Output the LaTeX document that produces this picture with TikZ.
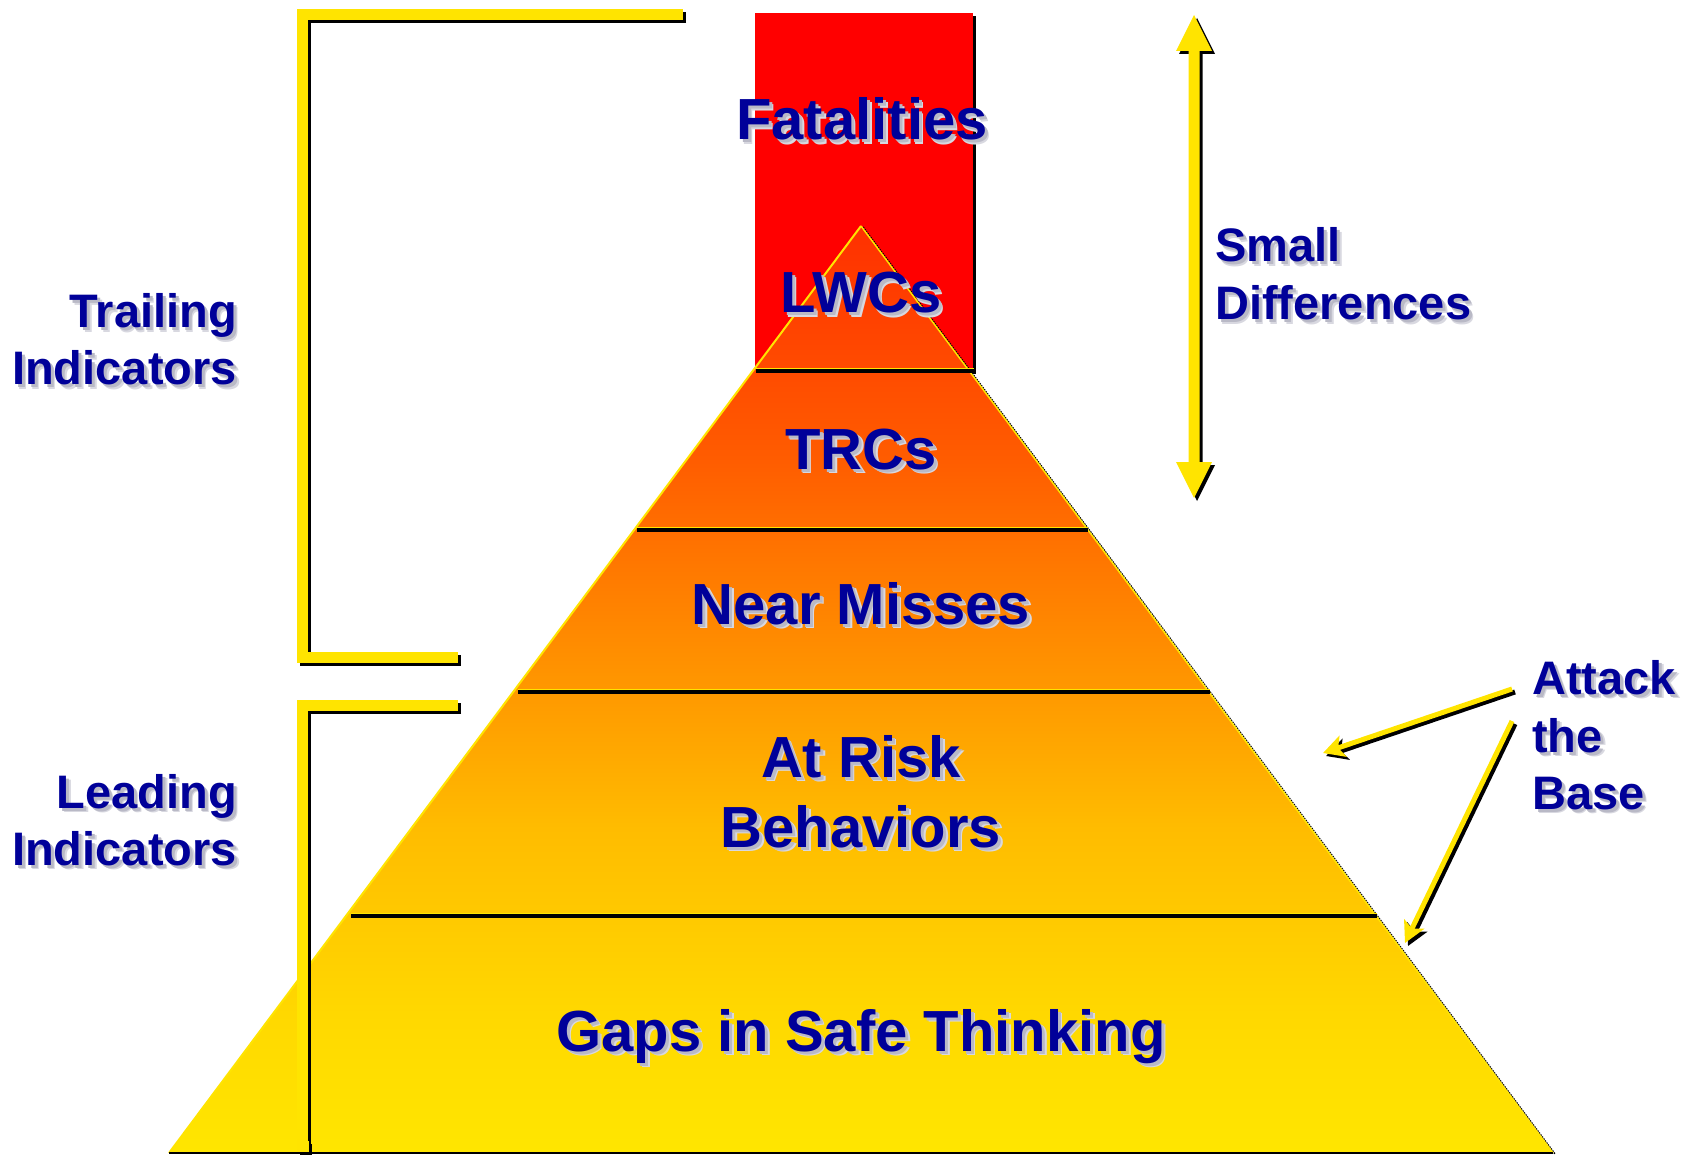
\documentclass[tikz,border=0pt]{standalone}
\usepackage{fontspec}
\setmainfont{Liberation Sans}
\usetikzlibrary{arrows.meta}

\definecolor{navy}{RGB}{0,0,153}
\definecolor{brkyel}{RGB}{255,228,0}
\definecolor{boxred}{RGB}{255,0,0}
\definecolor{txtshadow}{RGB}{185,185,198}
\definecolor{pc1}{RGB}{255,48,0}
\definecolor{pc2}{RGB}{255,92,0}
\definecolor{pc3}{RGB}{255,140,0}
\definecolor{pc4}{RGB}{255,188,0}
\definecolor{pc5}{RGB}{255,216,0}
\definecolor{pc6}{RGB}{255,230,0}

\pgfdeclareverticalshading{pyrshade}{100bp}{color(0bp)=(pc6); color(25bp)=(pc6); color(32.5bp)=(pc5); color(42.5bp)=(pc4); color(52.5bp)=(pc3); color(62.5bp)=(pc2); color(75bp)=(pc1); color(100bp)=(pc1)}

\newcommand{\shtext}[1]{\leavevmode\rlap{\kern4.5pt\raisebox{-4.5pt}{\color{txtshadow!55}#1}}\rlap{\kern3pt\raisebox{-3pt}{\color{txtshadow}#1}}#1}

\tikzset{
  bigtxt/.style={font=\bfseries\fontsize{58}{70}\selectfont, text=navy, inner sep=0pt},
  sidetxt/.style={font=\bfseries\fontsize{47}{57}\selectfont, text=navy, inner sep=0pt},
  brkline/.style={line width=11pt, brkyel, line join=miter},
  brkshadow/.style={line width=11pt, black, line join=miter},
  layerline/.style={line width=3.5pt, black},
  layerhi/.style={line width=1.5pt, brkyel},
  attackarrow/.style={line width=5pt, brkyel, -{Stealth[length=21pt,width=22pt,inset=5pt]}},
  attackshadow/.style={line width=5pt, black, -{Stealth[length=21pt,width=22pt,inset=5pt]}}
}

\begin{document}
\begin{tikzpicture}[x=1pt,y=-1pt]
\useasboundingbox (0,0) rectangle (1687,1155);

% red column with shadow
\fill[black] (758,16) rectangle (976,374);
\fill[boxred] (755,13) rectangle (973,371);

% pyramid
\coordinate (apex) at (861,226);
\coordinate (bl) at (169,1153);
\coordinate (br) at (1553,1153);
\shade[shading=pyrshade] (apex) -- (bl) -- (br) -- cycle;
\draw[black, line width=1.5pt, densely dotted] ([shift={(2,1)}]apex) -- ([shift={(2,1)}]br);
\draw[brkyel, line width=1.5pt] (apex) -- (br);
\draw[brkyel, line width=2pt] (apex) -- (bl);
\draw[black, line width=2pt] (bl) -- (br);

% layer separators
\coordinate (l1a) at (756,371);  \coordinate (l1b) at (974,371);
\coordinate (l2a) at (637,530);  \coordinate (l2b) at (1088,530);
\coordinate (l3a) at (518,692);  \coordinate (l3b) at (1210,692);
\coordinate (l4a) at (351,916);  \coordinate (l4b) at (1377,916);
\foreach \p in {1,2,3,4}{
  \draw[layerline] (l\p a) -- (l\p b);
  \draw[layerhi] ([shift={(0,-2.5)}]l\p a) -- ([shift={(0,-2.5)}]l\p b);
}

% trailing bracket
\coordinate (t1) at (683,15);
\coordinate (t2) at (302,15);
\coordinate (t3) at (302,657);
\coordinate (t4) at (458,657);
\draw[brkshadow] ([shift={(3,3)}]t1) -- ([shift={(3,3)}]t2) -- ([shift={(3,3)}]t3) -- ([shift={(3,3)}]t4);
\draw[brkline] (t1) -- (t2) -- (t3) -- (t4);

% leading bracket
\coordinate (d1) at (458,705);
\coordinate (d2) at (302,705);
\coordinate (d3) at (302,1146);
\coordinate (d4) at (309,1146);
\draw[brkshadow] ([shift={(3,3)}]d1) -- ([shift={(3,3)}]d2) -- ([shift={(3,3)}]d3) -- ([shift={(3,3)}]d4);
\draw[brkline] (d1) -- (d2) -- (d3) -- (d4);

% small differences double arrow
\foreach \dx/\dy/\col in {3/3/black, 0/0/brkyel}{
  \begin{scope}[shift={(\dx,\dy)}]
  \fill[\col] (1194,15) -- (1212,51) -- (1199.5,51) -- (1199.5,462) -- (1212,462)
    -- (1194,498) -- (1176,462) -- (1188.5,462) -- (1188.5,51) -- (1176,51) -- cycle;
  \end{scope}
}

% attack the base arrows
\coordinate (a1s) at (1512,689);
\coordinate (a1e) at (1323,753);
\coordinate (a2s) at (1512,721);
\coordinate (a2e) at (1405,943);
\draw[attackshadow] ([shift={(3,3)}]a1s) -- ([shift={(3,3)}]a1e);
\draw[attackarrow] (a1s) -- (a1e);
\draw[attackshadow] ([shift={(3,3)}]a2s) -- ([shift={(3,3)}]a2e);
\draw[attackarrow] (a2s) -- (a2e);

% pyramid labels
\node[bigtxt, anchor=base] (fat) at (862,140) {\shtext{Fatalities}};
\node[bigtxt, anchor=base] (lwc) at (861,313) {\shtext{LWCs}};
\node[bigtxt, anchor=base] (trc) at (861,469) {\shtext{TRCs}};
\node[bigtxt, anchor=base] (near) at (861,624) {\shtext{Near Misses}};
\node[bigtxt, anchor=base] (atrisk) at (861,777) {\shtext{At Risk}};
\node[bigtxt, anchor=base] (behav) at (861,847) {\shtext{Behaviors}};
\node[bigtxt, anchor=base] (gaps) at (861,1051) {\shtext{Gaps in Safe Thinking}};

% side labels
\node[sidetxt, anchor=base east] (trail) at (237,328) {\shtext{Trailing}};
\node[sidetxt, anchor=base east] (trind) at (237,385) {\shtext{Indicators}};
\node[sidetxt, anchor=base east] (lead) at (237,808) {\shtext{Leading}};
\node[sidetxt, anchor=base east] (ldind) at (237,865) {\shtext{Indicators}};
\node[sidetxt, anchor=base west] (small) at (1215,262) {\shtext{Small}};
\node[sidetxt, anchor=base west] (diff) at (1215,320) {\shtext{Differences}};
\node[sidetxt, anchor=base west] (attack) at (1532,694) {\shtext{Attack}};
\node[sidetxt, anchor=base west] (the) at (1532,752) {\shtext{the}};
\node[sidetxt, anchor=base west] (base) at (1532,809) {\shtext{Base}};
\end{tikzpicture}
\end{document}
